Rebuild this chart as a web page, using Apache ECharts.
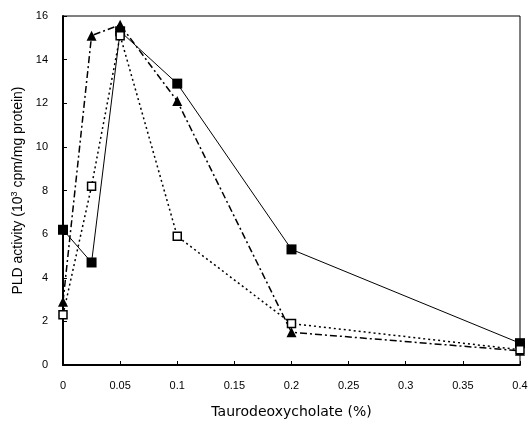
<!DOCTYPE html>
<html>
<head>
<meta charset="utf-8">
<script src="https://cdn.jsdelivr.net/npm/echarts@6/dist/echarts.min.js"></script>
</head>
<body style="margin:0;background:#fff">
<div id="main" style="width:531px;height:424px;"></div>
<script type="text/javascript">
// detergent concentration (%)
var conc = [0, 0.025, 0.05, 0.1, 0.2, 0.4];
var filledSquare = [6.2, 4.7, 15.3, 12.9, 5.3, 1.0];
var triangle = [2.9, 15.1, 15.6, 12.1, 1.5, 0.65];
var openSquare = [2.3, 8.2, 15.1, 5.9, 1.9, 0.7];

function pairs(vals) {
    return conc.map(function (c, i) { return [c, vals[i]]; });
}

var myChart = echarts.init(document.getElementById('main'));

var font = 'DejaVu Sans';
var yFont = 'Liberation Sans';

var option = {
    backgroundColor: '#fff',
    animation: false,
    grid: {
        left: 63, right: 11, top: 16, bottom: 59,
        show: true, borderColor: '#000', borderWidth: 1
    },
    xAxis: {
        type: 'value',
        min: 0, max: 0.4, interval: 0.05,
        name: 'Taurodeoxycholate (%)',
        nameLocation: 'middle',
        nameGap: 40,
        nameTextStyle: { fontFamily: font, fontSize: 14, color: '#000' },
        axisLine: { lineStyle: { color: '#000', width: 2 } },
        axisTick: { inside: true, length: 4, lineStyle: { color: '#000' } },
        axisLabel: { fontFamily: yFont, fontSize: 11, color: '#000', margin: 15,
            formatter: function (v) { return String(+v.toFixed(2)); } },
        splitLine: { show: false }
    },
    yAxis: {
        type: 'value',
        min: 0, max: 16, interval: 2,
        name: 'PLD activity (10{sup|3} cpm/mg protein)',
        nameLocation: 'middle',
        nameGap: 31,
        nameTextStyle: { fontFamily: yFont, fontSize: 14, color: '#000',
            rich: { sup: { fontFamily: yFont, fontSize: 9, color: '#000', verticalAlign: 'top', padding: [0, 0, 7, 0] } } },
        axisLine: { lineStyle: { color: '#000', width: 2 } },
        axisTick: { inside: true, length: 4, lineStyle: { color: '#000' } },
        axisLabel: { fontFamily: yFont, fontSize: 11, color: '#000', margin: 15 },
        splitLine: { show: false }
    },
    series: [
        {
            type: 'line',
            data: pairs(filledSquare),
            symbol: 'rect', symbolSize: 10,
            itemStyle: { color: '#000' },
            lineStyle: { color: '#000', width: 1, type: 'solid' }
        },
        {
            type: 'line',
            data: pairs(triangle),
            symbol: 'triangle', symbolSize: 10,
            itemStyle: { color: '#000' },
            lineStyle: { color: '#000', width: 1.5, type: [7, 3, 2, 3] }
        },
        {
            type: 'line',
            data: pairs(openSquare),
            symbol: 'rect', symbolSize: 8,
            itemStyle: { color: '#fff', borderColor: '#000', borderWidth: 1.5 },
            lineStyle: { color: '#000', width: 1.5, type: [2, 3] }
        }
    ]
};

myChart.setOption(option);
</script>
</body>
</html>
